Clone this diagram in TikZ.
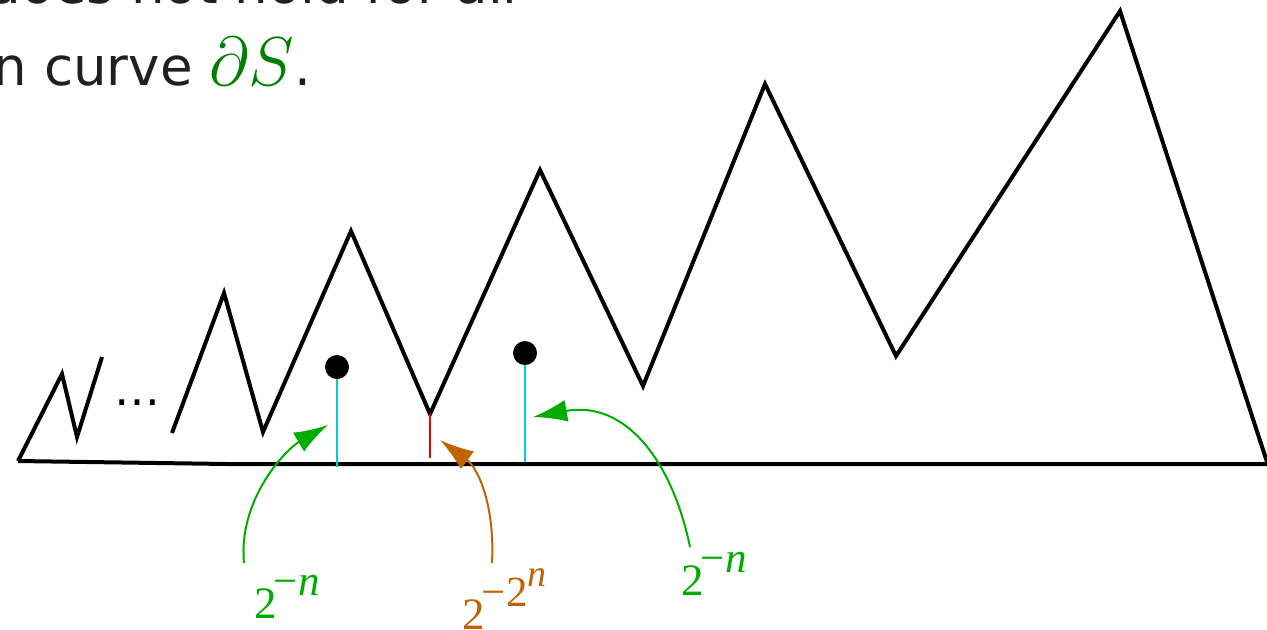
\documentclass[tikz,border=0pt]{standalone}
\usepackage{fontspec}
\setsansfont{DejaVu Sans}
\newfontfamily\labelfont{Liberation Serif}
\usetikzlibrary{arrows.meta}
\definecolor{textgray}{RGB}{35,31,32}
\definecolor{curvegreen}{RGB}{0,128,0}
\definecolor{labelgreen}{RGB}{0,172,0}
\definecolor{labelorange}{RGB}{190,100,0}
\definecolor{gapcyan}{RGB}{0,205,215}
\definecolor{gapred}{RGB}{235,0,0}
\newcommand{\expo}[1]{\kern-1.5pt\raisebox{11.5pt}{\fontsize{21.5}{21.5}\selectfont #1}}
\newcommand{\expoo}[1]{\raisebox{10pt}{\fontsize{19}{19}\selectfont #1}}

\begin{document}
\begin{tikzpicture}[x=0.5pt, y=-0.5pt, >={Latex[length=17pt, width=11pt]},
    zigzag/.style={line width=2pt},
    gapline/.style={line width=1pt},
    pointer/.style={->, line width=1pt},
    dot/.style={circle, fill, inner sep=0pt, minimum size=12pt},
    slidetext/.style={anchor=base east, inner sep=0pt, text=textgray, font=\sffamily\fontsize{26.5}{26.5}\selectfont},
    powlabel/.style={anchor=base west, inner sep=0pt, font=\labelfont\fontsize{22.5}{22.5}\selectfont}]
    \useasboundingbox (0,0) rectangle (1267,629);
    % slide text, cut off by the frame
    \node[slidetext] (line1) at (518,3) {does not hold for all};
    \node[slidetext] (line2) at (312,85) {n curve \textcolor{curvegreen}{\scalebox{1.39}{$\partial S$}}.};
    % the curve
    \draw[zigzag] (18,461) -- (228,464) -- (1275,464);
    \draw[zigzag] (18,461) -- (62,374) -- (77,437) -- (102,357);
    \node[anchor=base, inner sep=0pt, font=\sffamily\fontsize{23}{23}\selectfont] (dots) at (137,405) {…};
    \draw[zigzag] (172,433) -- (224,293) -- (263,432) -- (351,231) -- (430,414) -- (540,170)
      -- (643,386) -- (765,84) -- (896,356) -- (1120,11) -- (1267,462);
    % points and distances
    \node[dot] (p1) at (337,367) {};
    \node[dot] (p2) at (525,353) {};
    \coordinate (f1) at (337,467);
    \coordinate (f2) at (525,462);
    \coordinate (v) at (430,414);
    \coordinate (vf) at (430,458);
    \draw[gapline, gapcyan] (p1) -- (f1);
    \draw[gapline, gapcyan] (p2) -- (f2);
    \draw[gapline, gapred] (v) -- (vf);
    % labels
    \node[powlabel, text=labelgreen] (lab1) at (254,618) {2\expo{−\textit{n}}};
    \node[powlabel, text=labelorange] (lab2) at (462,629) {2\expo{−2\expoo{\textit{n}}}};
    \node[powlabel, text=labelgreen] (lab3) at (681,595) {2\expo{−\textit{n}}};
    \coordinate (s1) at (244,563);
    \coordinate (t1) at (328,425);
    \coordinate (s2) at (492,563);
    \coordinate (t2) at (440,440);
    \coordinate (s3) at (690,547);
    \coordinate (t3) at (533,417);
    \draw[pointer, labelgreen] (s1) .. controls (238,500) and (285,450) .. (t1);
    \draw[pointer, labelorange] (s2) .. controls (495,505) and (478,468) .. (t2);
    \draw[pointer, labelgreen] (s3) .. controls (672,460) and (625,400) .. (t3);
  \end{tikzpicture}
\end{document}
